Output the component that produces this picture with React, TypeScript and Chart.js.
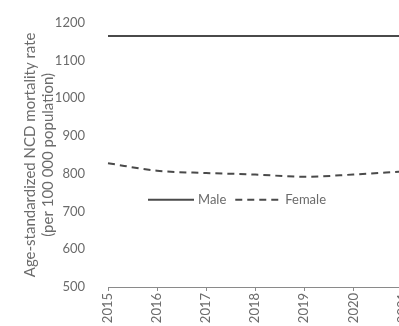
import React, { useEffect, useRef } from "react";
import { Chart, registerables } from "chart.js";

Chart.register(...registerables);

const years = ["2015", "2016", "2017", "2018", "2019", "2020", "2021"];
const maleRate = [1165, 1165, 1165, 1165, 1165, 1165, 1165];
const femaleRate = [828, 808, 802, 798, 792, 798, 806];
const yTitle = ["Age-standardized NCD mortality rate", "(per 100 000 population)"];

const FONT = "Lato, 'Open Sans', sans-serif";
const TEXT = "#6b6b6b";
const LINE = "#4a4a4a";

const innerLegend = {
  id: "innerLegend",
  afterDraw(chart: any) {
    const { ctx, chartArea } = chart;
    const y = chartArea.top + 177;
    let x = chartArea.left + 40;
    ctx.save();
    ctx.font = `13px ${FONT}`;
    ctx.textBaseline = "middle";
    chart.data.datasets.forEach((ds: any) => {
      ctx.strokeStyle = ds.borderColor;
      ctx.lineWidth = ds.borderWidth;
      ctx.setLineDash(ds.borderDash || []);
      ctx.beginPath();
      ctx.moveTo(x, y);
      ctx.lineTo(x + 46, y);
      ctx.stroke();
      ctx.setLineDash([]);
      ctx.fillStyle = TEXT;
      ctx.fillText(ds.label, x + 50, y);
      x += 50 + ctx.measureText(ds.label).width + 9;
    });
    ctx.restore();
  },
};

export default function App() {
  const ref = useRef<HTMLCanvasElement | null>(null);
  useEffect(() => {
    if (!ref.current) return;
    const chart = new Chart(ref.current, {
      type: "line",
      data: {
        labels: years,
        datasets: [
          {
            label: "Male",
            data: maleRate,
            borderColor: LINE,
            borderWidth: 2,
            pointRadius: 0,
            fill: false,
          },
          {
            label: "Female",
            data: femaleRate,
            borderColor: LINE,
            borderWidth: 2,
            borderDash: [7, 5],
            pointRadius: 0,
            fill: false,
            cubicInterpolationMode: "monotone",
          },
        ],
      },
      options: {
        animation: false,
        responsive: false,
        maintainAspectRatio: false,
        layout: { padding: { left: 22, right: 16, top: 18, bottom: 0 } },
        plugins: { legend: { display: false }, tooltip: { enabled: false } },
        scales: {
          x: {
            type: "category",
            offset: false,
            grid: { display: true, drawOnChartArea: false, tickLength: 4, color: "#8a8a8a" },
            border: { display: true, color: "#8a8a8a", width: 1 },
            ticks: {
              minRotation: 90,
              maxRotation: 90,
              autoSkip: false,
              padding: 2,
              color: TEXT,
              font: { family: FONT, size: 13 },
            },
            afterFit: (scale: any) => {
              scale.height = 39;
            },
          },
          y: {
            min: 500,
            max: 1200,
            grid: { display: false },
            border: { display: false },
            ticks: {
              stepSize: 100,
              padding: 15,
              color: TEXT,
              font: { family: FONT, size: 13 },
              callback: (v: any) => String(v),
            },
            title: {
              display: true,
              text: yTitle,
              color: TEXT,
              font: { family: FONT, size: 15, lineHeight: 1.15 },
              padding: { top: 0, bottom: 0 },
            },
            afterFit: (scale: any) => {
              scale.width = 86;
            },
          },
        },
      },
      plugins: [innerLegend],
    });
    return () => chart.destroy();
  }, []);
  return (
    <div style={{ position: "fixed", left: 0, top: 0, width: 399, height: 326, overflow: "hidden", background: "#fff" }}>
      <canvas ref={ref} width={420} height={326} style={{ display: "block" }} />
    </div>
  );
}
